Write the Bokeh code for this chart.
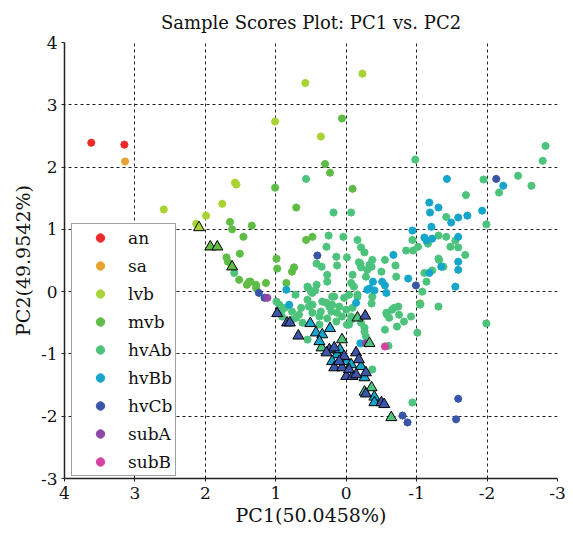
from bokeh.plotting import figure
from bokeh.models import Range1d, FixedTicker, Legend, LegendItem
from bokeh.embed import file_html
from bokeh.resources import INLINE

# ---------------- data (circles) ----------------
an_x = [3.62, 3.15]
an_y = [2.39, 2.36]
sa_x = [3.14]
sa_y = [2.09]
lvb_x = [2.59, 1.99, 2.13, 1.58, 1.56, 1.01, 0.58, -0.23, 0.36, 1.76]
lvb_y = [1.32, 1.22, 1.09, 1.75, 1.72, 2.73, 3.35, 3.50, 2.49, 1.41]
mvb_x = [0.06, 0.30, 0.23, 1.01, 0.71, -0.09, 1.65, 1.62, 1.34, 1.46, 0.57, 0.48,
         1.51, 1.70, 1.68, 1.52, 1.41, 1.36, 1.28, 1.28, 1.14, 0.99, 0.98, 0.85,
         0.74, 0.77, 1.38, -1.05]
mvb_y = [2.78, 2.05, 1.91, 1.67, 1.35, 1.65, 1.12, 1.00, 1.06, 0.88, 0.83, 0.88,
         0.61, 0.55, 0.48, 0.19, 0.11, 0.16, 0.11, 0.06, 0.14, 0.53, 0.37, 0.14,
         0.39, 0.32, 0.16, -0.19]
hvAb_x = [0.57, 0.18, -0.07, 0.25, 0.04, -0.16, 0.28, 0.14, 0.13, -0.21, -0.26, 0.42,
          0.35, 0.27, 0.27, 0.55, 0.42, -0.09, -0.07, -0.11, -0.16, -0.37, -0.36, -0.30,
          -0.50, -0.55, -0.70, -0.71, -0.37, -0.28, -1.11, -1.08, -1.05, -1.31, -1.14, -1.32,
          -0.94, -0.85, -0.95, -1.02, -1.16, -1.31, -1.42, -1.55, -1.48, -1.59, -1.69, -1.31,
          -1.38, -1.22, -0.65, -0.74, -0.57, -0.68, -0.75, -0.82, -0.72, -0.61, -0.92, -0.55,
          -0.58, -1.99, -1.01, -0.94, -0.37, -0.26, -0.26, -0.98, -1.95, -2.44, -2.63, -2.79,
          -2.83, -2.17, -1.70, -1.42, -1.99, -0.33, -0.20, 1.59, 0.99, 0.95, 0.91, 0.87,
          -0.01, -0.18, -0.21, -0.16, 0.54, 0.48, 0.55, 0.48, 0.34, 0.28, 0.20, 0.10,
          0.03, 0.17, 0.21, 0.13, 0.00, 0.06, 0.14, 0.27, 0.67, 0.64, 0.77, 0.71,
          0.55, 0.38, -0.04, 0.53, 0.48, 0.38, 0.24, 0.62, 0.77, 0.91, -0.07, -0.09,
          -0.04, -0.36, 0.50, 0.20, 0.36, -0.07, -0.21, -0.28, -0.01, -0.60, 0.72, 0.44]
hvAb_y = [1.81, 1.27, 1.27, 0.90, 0.88, 0.83, 0.72, 0.56, 0.42, 0.71, 0.63, 0.45,
          0.40, 0.27, 0.16, 0.08, 0.11, 0.27, 0.14, 0.08, -0.08, 0.51, 0.40, 0.35,
          0.32, 0.51, 0.42, 0.24, -0.08, 0.24, 0.30, 0.00, -0.21, -0.24, 0.16, 0.51,
          0.83, 0.66, 0.66, 0.72, 0.77, 0.90, 0.88, 0.82, 0.72, 0.71, 0.59, 0.53,
          0.40, 0.34, -0.29, -0.24, -0.34, -0.26, -0.37, -0.48, -0.56, -0.42, -0.40, -0.61,
          -0.37, -0.51, -0.66, -1.78, -1.25, -0.58, -0.64, 2.12, 1.80, 1.86, 1.70, 2.10,
          2.34, 1.59, 1.55, 1.20, 1.08, 0.43, 0.45, 0.30, -0.16, -0.21, -0.29, -0.26,
          0.55, 0.47, 0.39, -0.05, 0.06, -0.02, -0.13, -0.21, -0.16, -0.18, -0.21, -0.24,
          -0.10, -0.08, -0.32, -0.34, -0.29, -0.40, -0.48, -0.43, -0.37, -0.26, -0.32, -0.42,
          -0.77, -0.53, -0.53, -0.24, -0.34, -0.40, -0.24, -0.50, -0.45, -0.40, -0.40, -0.26,
          -0.05, -0.19, 0.00, -0.08, -0.32, -0.45, -0.50, -0.72, -0.53, -0.87, -0.05, 0.02]
hvBb_x = [-1.43, -2.23, -1.18, -1.19, -1.31, -1.21, -1.49, -1.59, -1.72, -1.93, -0.94, -1.11,
          -1.14, -1.22, -1.59, -0.67, -1.35, -1.59, -1.59, -1.18, -1.55, -0.88, -0.38, -0.51,
          -0.55, -0.57, -0.40, -0.33, -0.14, -0.30, 0.85, 0.81, -0.20]
hvBb_y = [1.81, 1.70, 1.43, 1.27, 1.35, 1.04, 1.11, 1.19, 1.22, 1.30, 0.98, 0.87,
          0.82, 0.85, 0.88, 0.59, 0.40, 0.48, 0.35, 0.30, 0.08, 0.21, 0.16, 0.16,
          0.10, -0.02, 0.02, 0.05, -0.18, 0.03, 0.03, -0.21, -0.83]
hvCb_x = [-2.13, 0.41, -0.99, 1.24, 1.16, -1.59, -1.56, -0.80, -0.87]
hvCb_y = [1.81, 0.58, 0.10, -0.02, -0.10, -1.72, -2.05, -1.99, -2.10]
subA_x = [1.12, -0.28]
subA_y = [-0.10, -0.83]
subB_x = [-0.55]
subB_y = [-0.88]

# ---------------- data (triangles) ----------------
tri_lvb_x = [2.09]
tri_lvb_y = [1.03]
tri_mvb_x = [1.93, 1.83, 1.62]
tri_mvb_y = [0.72, 0.72, 0.40]
tri_hvAb_x = [-0.16, -0.33, 0.35, 0.06, -0.26, -0.36, -0.43, -0.64]
tri_hvAb_y = [-0.42, -0.83, -0.90, -0.77, -1.61, -1.54, -1.77, -2.02]
tri_hvBb_x = [0.51, 0.43, 0.34, 0.23, 0.38, 0.13, 0.20, -0.01, -0.07, -0.21, -0.26, -0.40, -0.40, 0.09]
tri_hvBb_y = [-0.51, -0.66, -0.69, -0.59, -0.80, -1.01, -1.12, -1.12, -1.17, -1.20, -1.38, -1.69, -1.78, -0.93]
tri_hvCb_x = [0.98, 0.84, 0.80, 0.68, -0.27, 0.24, 0.17, 0.28, 0.03, -0.14, 0.17, 0.06,
              -0.18, 0.00, -0.09, -0.14, -0.28, -0.28, -0.50, -0.54, 0.10, -0.04]
tri_hvCb_y = [-0.35, -0.50, -0.50, -0.71, -0.39, -0.93, -0.90, -0.98, -1.04, -0.98, -1.22, -1.22,
              -1.09, -1.36, -1.36, -1.33, -1.30, -1.64, -1.78, -1.81, -1.12, -1.25]

labels = ["an", "sa", "lvb", "mvb", "hvAb", "hvBb", "hvCb", "subA", "subB"]
colors = ["#ee2b2b", "#e8a331", "#a9d334", "#5fbd45", "#4dc47d",
          "#16a6cc", "#3b55a8", "#8e46a8", "#d4449f"]
ticks = [-3, -2, -1, 0, 1, 2, 3, 4]
tick_labels = ["-3", "-2", "-1", "0", "1", "2", "3", "4"]
title_text = "Sample Scores Plot: PC1 vs. PC2"

series = [(an_x, an_y), (sa_x, sa_y), (lvb_x, lvb_y), (mvb_x, mvb_y), (hvAb_x, hvAb_y),
          (hvBb_x, hvBb_y), (hvCb_x, hvCb_y), (subA_x, subA_y), (subB_x, subB_y)]
tri_series = [(tri_lvb_x, tri_lvb_y, colors[2]), (tri_mvb_x, tri_mvb_y, colors[3]),
              (tri_hvAb_x, tri_hvAb_y, colors[4]), (tri_hvBb_x, tri_hvBb_y, colors[5]),
              (tri_hvCb_x, tri_hvCb_y, colors[6])]

FONT = "DejaVu Serif"

p = figure(width=573, height=534, output_backend="svg", toolbar_location=None,
           x_range=Range1d(4, -3), y_range=Range1d(-3, 4),
           min_border_left=64, min_border_right=16, min_border_top=42, min_border_bottom=56)
p.outline_line_color = None
p.background_fill_color = "white"

p.title.text = title_text
p.title.align = "center"
p.title.text_font = FONT
p.title.text_font_size = "18px"
p.title.text_font_style = "normal"
p.title.text_color = "#111111"
p.title.standoff = 19

overrides = {t: s for t, s in zip(ticks, tick_labels)}
for ax in (p.xaxis[0], p.yaxis[0]):
    ax.ticker = FixedTicker(ticks=ticks)
    ax.major_label_overrides = overrides
    ax.minor_tick_line_color = None
    ax.major_tick_in = 0
    ax.major_tick_out = 3
    ax.axis_line_width = 1.5
    ax.axis_line_color = "#222222"
    ax.major_tick_line_color = "#222222"
    ax.major_label_text_font = FONT
    ax.major_label_text_font_size = "17px"
    ax.major_label_text_color = "#111111"
    ax.axis_label_text_font = FONT
    ax.axis_label_text_font_size = "19px"
    ax.axis_label_text_font_style = "normal"
    ax.axis_label_text_color = "#111111"
p.xaxis.axis_label = "PC1(50.0458%)"
p.yaxis.axis_label = "PC2(49.9542%)"
p.xaxis.major_label_standoff = 5
p.yaxis.major_label_standoff = 4
p.xaxis.axis_label_standoff = 2
p.yaxis.axis_label_standoff = 4

for g in (p.xgrid[0], p.ygrid[0]):
    g.ticker = FixedTicker(ticks=ticks)
    g.grid_line_color = "#222222"
    g.grid_line_dash = "3 3"
    g.grid_line_width = 1

items = []
for (xs, ys), lab, col in zip(series, labels, colors):
    r = p.scatter(xs, ys, marker="circle", size=7, fill_color=col, line_color=col, line_width=1)
    p.scatter(xs, ys, marker="asterisk", size=8.5, line_color=col, line_width=1, line_alpha=0.5)
    items.append(LegendItem(label=lab, renderers=[r]))

for xs, ys, col in tri_series:
    p.scatter(xs, ys, marker="triangle", size=11, fill_color=col, line_color="black", line_width=1)

legend = Legend(items=items, location=(7, 2), orientation="vertical",
                label_text_font=FONT, label_text_font_size="17px", label_text_color="#111111",
                glyph_width=50, glyph_height=21, label_height=21, spacing=7, padding=3,
                label_standoff=3, margin=0,
                border_line_color="#444444", border_line_width=1.5,
                background_fill_color="white", background_fill_alpha=1)
p.add_layout(legend, "center")

open("out.html", "w").write(file_html(p, INLINE))
